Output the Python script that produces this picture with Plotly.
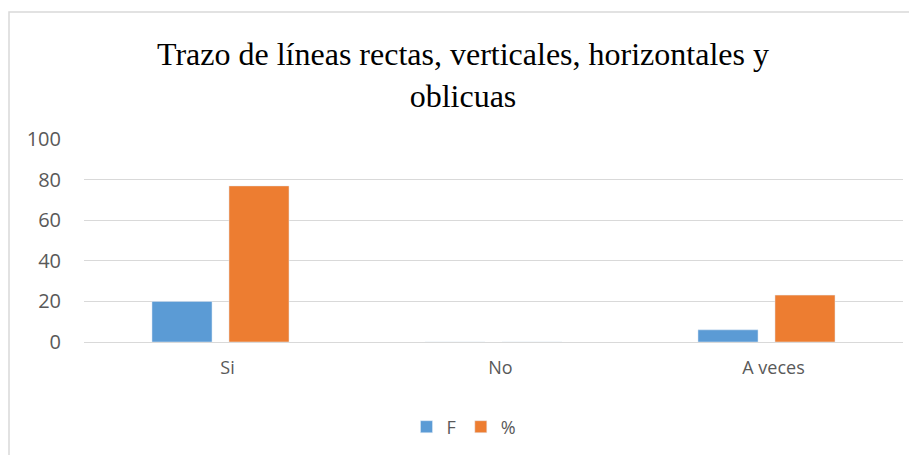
import plotly.graph_objects as go

categories = ["Si", "No", "A veces"]
f_values = [20, 0, 6]
pct_values = [76.9, 0, 23.1]
y_ticks = [0, 20, 40, 60, 80, 100]

fig = go.Figure()
fig.add_trace(go.Bar(name="F", x=categories, y=f_values, marker_color="#5b9bd5"))
fig.add_trace(go.Bar(name="%", x=categories, y=pct_values, marker_color="#ed7d31"))

# the page body has an 8px margin; work in screen pixels and shift
O = 8
SW, SH = 917, 455
W, H = SW - O, SH - O
plot_left, plot_right, plot_top, plot_bottom = 84, 903, 139, 342
L = plot_left - O
R = W - (plot_right - O)
T = plot_top - O
B = H - (plot_bottom - O)
pw, ph = W - L - R, H - T - B

def px_x(x):
    return (x - O - L) / pw

def px_y(y):
    return (H - B - (y - O)) / ph

fig.update_layout(
    width=W, height=H,
    margin=dict(l=L, r=R, t=T, b=B, autoexpand=False),
    paper_bgcolor="white", plot_bgcolor="white",
    barmode="group", bargap=0.436, bargroupgap=0.22,
    title=dict(
        text="Trazo de líneas rectas, verticales, horizontales y<br>oblicuas",
        font=dict(family="Liberation Serif", size=32, color="#000000"),
        x=(463 - O) / W, xanchor="center", xref="container",
        y=1 - 57 / H, yanchor="middle",
    ),
    font=dict(family="Open Sans", size=19, color="#595959"),
    showlegend=True,
    legend=dict(
        orientation="h", x=px_x(464), xanchor="center", xref="paper",
        y=px_y(427), yanchor="middle",
        font=dict(size=18, color="#595959"),
        itemwidth=30, tracegroupgap=0,
    ),
    xaxis=dict(showgrid=False, showline=False, ticks="", automargin=False,
               ticklabelshift=7, ticklabelstandoff=13,
               tickfont=dict(size=18, color="#595959")),
    yaxis=dict(
        range=[0, 100], tickvals=y_ticks, showgrid=True, gridcolor="#d9d9d9",
        gridwidth=1, zeroline=True, zerolinecolor="#d9d9d9", zerolinewidth=1,
        showline=False, ticks="", automargin=False, ticklabelstandoff=22,
        tickfont=dict(size=20, color="#595959"),
    ),
    shapes=[dict(
        type="rect", xref="paper", yref="paper",
        x0=px_x(9), x1=px_x(935), y0=px_y(480), y1=px_y(12),
        line=dict(color="#d9d9d9", width=1.5), fillcolor="rgba(0,0,0,0)", layer="below",
    )],
)

fig.write_html("out.html")
